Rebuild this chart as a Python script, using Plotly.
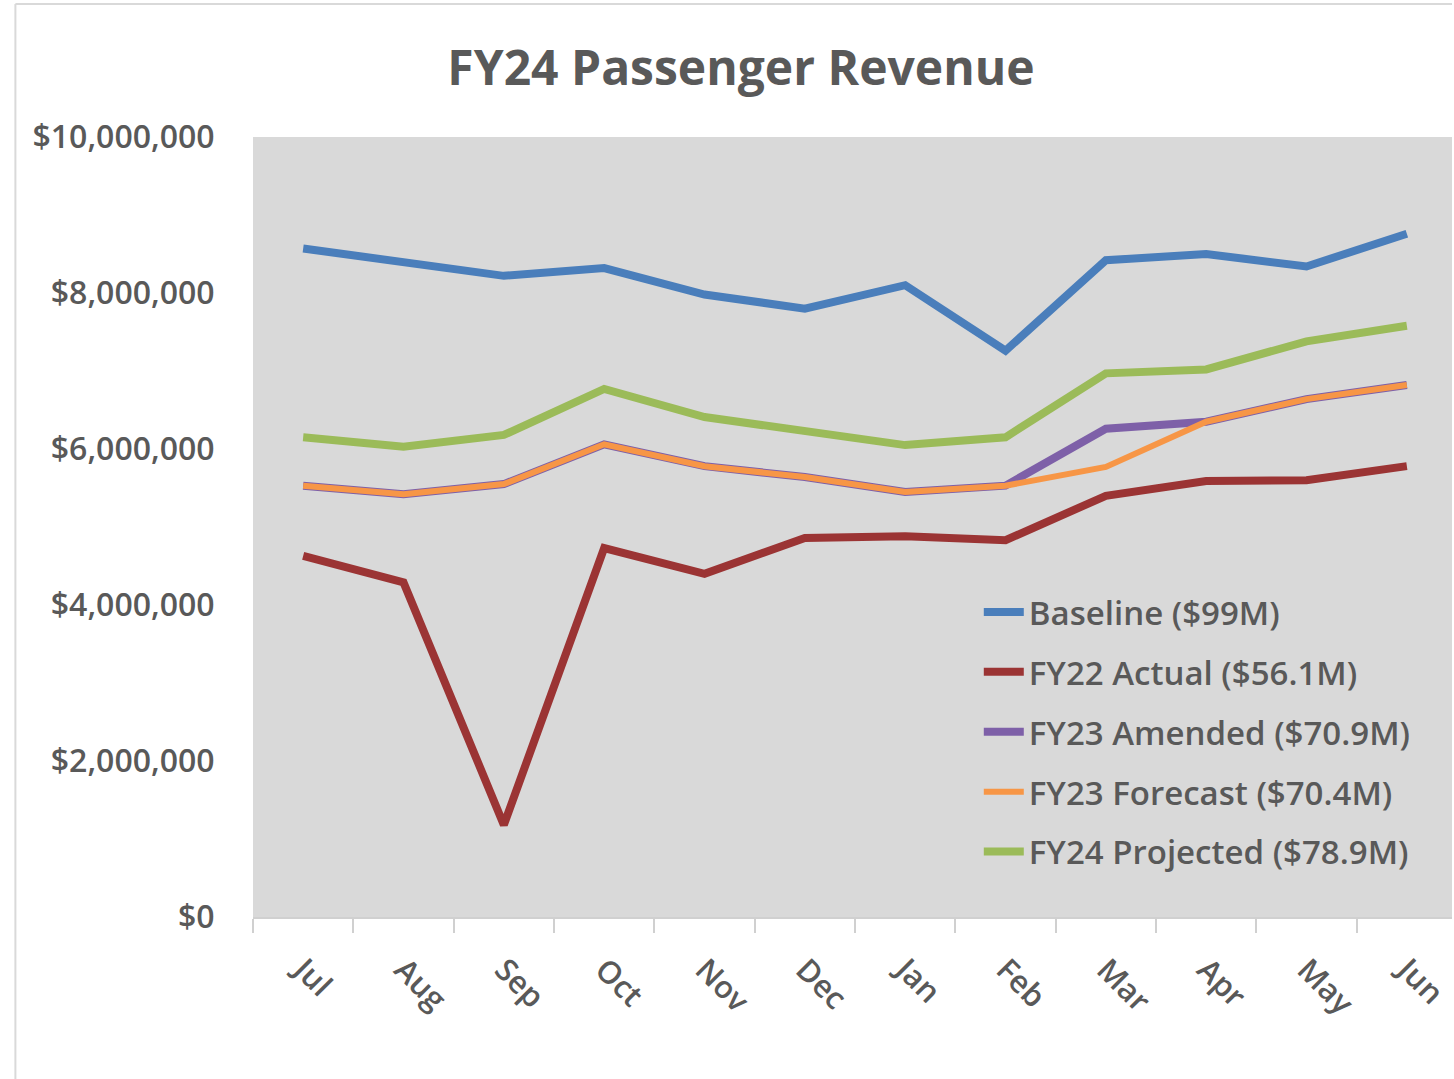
import plotly.graph_objects as go

months = ["Jul", "Aug", "Sep", "Oct", "Nov", "Dec", "Jan", "Feb", "Mar", "Apr", "May", "Jun"]

baseline = [8.57, 8.40, 8.22, 8.32, 7.98, 7.80, 8.10, 7.26, 8.42, 8.50, 8.34, 8.76]
fy22_actual = [4.63, 4.29, 1.18, 4.73, 4.40, 4.86, 4.88, 4.83, 5.40, 5.59, 5.60, 5.78]
fy23_amended = [5.53, 5.42, 5.55, 6.06, 5.78, 5.64, 5.45, 5.53, 6.26, 6.35, 6.64, 6.82]
fy23_forecast = [5.53, 5.42, 5.55, 6.06, 5.78, 5.64, 5.45, 5.53, 5.77, 6.35, 6.64, 6.82]
fy24_projected = [6.15, 6.03, 6.18, 6.77, 6.41, 6.24, 6.05, 6.15, 6.97, 7.02, 7.38, 7.58]

series_names = ["Baseline ($99M)", "FY22 Actual ($56.1M)", "FY23 Amended ($70.9M)",
                "FY23 Forecast ($70.4M)", "FY24 Projected ($78.9M)"]
series_values = [baseline, fy22_actual, fy23_amended, fy23_forecast, fy24_projected]
series_colors = ["#4A7EBB", "#9B3434", "#7E60A8", "#F79646", "#9BBB59"]
series_widths = [8, 8, 8, 6, 8]

y_tickvals = [0, 2e6, 4e6, 6e6, 8e6, 10e6]
y_ticktext = ["$0", "$2,000,000", "$4,000,000", "$6,000,000", "$8,000,000", "$10,000,000"]

FONT = "'Open Sans', Lato, sans-serif"
TEXT = "#595959"

W, H = 1454, 1079
L, T, B = 253, 137, 162
PW, PH = W - L, H - T - B

fig = go.Figure()
for i, (name, vals, col, w) in enumerate(zip(series_names, series_values, series_colors, series_widths)):
    fig.add_trace(go.Scatter(
        x=months, y=[v * 1e6 for v in vals], mode="lines", name=name,
        line=dict(color=col, width=w), legendgroup=f"g{i}",
    ))

fig.update_layout(
    width=W, height=H,
    margin=dict(l=L, r=0, t=T, b=B),
    paper_bgcolor="white",
    plot_bgcolor="#D9D9D9",
    title=dict(text="<b>FY24 Passenger Revenue</b>", x=741 / W, xanchor="center",
               y=1 - 68 / H, yanchor="middle",
               font=dict(family=FONT, size=48, color=TEXT)),
    font=dict(family=FONT, color=TEXT),
    showlegend=True,
    legend=dict(x=(980 - L) / PW, y=(917 - 584) / PH, xanchor="left", yanchor="top",
                bgcolor="rgba(0,0,0,0)",
                font=dict(family=FONT, size=33, color=TEXT, weight=600),
                traceorder="grouped", tracegroupgap=14, itemwidth=40),
    xaxis=dict(type="category", range=[-0.5, 11.45], showgrid=False,
               showline=True, linecolor="#D0D0D0", linewidth=2,
               ticks="outside", ticklen=14, tickcolor="#D0D0D0", tickwidth=2,
               tickson="boundaries", tickangle=45,
               tickfont=dict(family=FONT, size=31, color=TEXT, weight=600),
               ticklabelstandoff=20, zeroline=False),
    yaxis=dict(range=[0, 10e6], tickvals=y_tickvals, ticktext=y_ticktext,
               showgrid=False, zeroline=False, showline=False,
               ticks="outside", ticklen=31, tickcolor="rgba(0,0,0,0)",
               tickfont=dict(family=FONT, size=32, color=TEXT, weight=600)),
    shapes=[
        dict(type="line", xref="paper", yref="paper", x0=(15 - L) / PW, x1=(15 - L) / PW,
             y0=(917 - 4) / PH, y1=(917 - H) / PH, line=dict(color="#D9D9D9", width=2)),
        dict(type="line", xref="paper", yref="paper", x0=(15 - L) / PW, x1=1.0,
             y0=(917 - 4) / PH, y1=(917 - 4) / PH, line=dict(color="#D9D9D9", width=2)),
    ],
)

fig.write_html("out.html", config={"displayModeBar": False},
               post_script="document.body.style.margin='0';document.body.style.overflow='hidden';")
